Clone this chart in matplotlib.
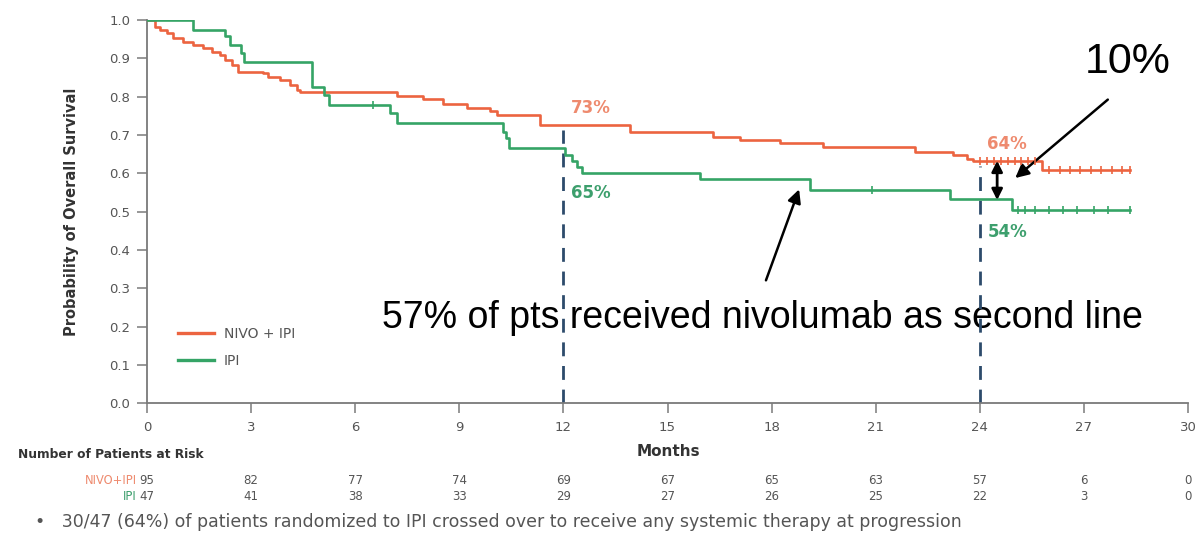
import matplotlib
matplotlib.use("Agg")
import matplotlib.pyplot as plt
from matplotlib.lines import Line2D

# Kaplan-Meier step data (months, survival after each step)
nivo_times = [0, 0.23, 0.37, 0.58, 0.75, 1.04, 1.33, 1.61, 1.87, 2.10, 2.25, 2.45, 2.62,
              3.34, 3.49, 3.83, 4.12, 4.32, 4.41, 7.20, 7.95, 8.53, 9.22, 9.88, 10.09,
              11.33, 13.92, 16.31, 17.09, 18.24, 19.48, 22.13, 23.23, 23.63, 23.80, 25.79, 28.33]
nivo_surv = [1.0, 0.982, 0.974, 0.966, 0.953, 0.943, 0.935, 0.927, 0.917, 0.909, 0.896, 0.883, 0.865,
             0.862, 0.852, 0.844, 0.831, 0.818, 0.812, 0.803, 0.795, 0.782, 0.771, 0.762, 0.751,
             0.726, 0.707, 0.694, 0.686, 0.678, 0.668, 0.655, 0.647, 0.638, 0.631, 0.608, 0.608]

ipi_times = [0, 1.33, 2.25, 2.40, 2.70, 2.80, 4.75, 5.10, 5.25, 7.00, 7.20, 10.26, 10.35,
             10.42, 12.05, 12.25, 12.40, 12.55, 15.95, 19.10, 23.14, 24.93, 28.33]
ipi_surv = [1.0, 0.974, 0.957, 0.936, 0.915, 0.891, 0.825, 0.805, 0.778, 0.757, 0.731, 0.708, 0.692,
            0.666, 0.648, 0.632, 0.617, 0.600, 0.584, 0.557, 0.533, 0.505, 0.505]

# Censoring times
nivo_censor = [24.0, 24.2, 24.4, 24.6, 24.8, 25.0, 25.2, 25.4, 25.6, 26.0, 26.3, 26.6,
               26.9, 27.2, 27.5, 27.8, 28.1, 28.33]
ipi_censor = [6.5, 20.9, 25.1, 25.3, 25.6, 26.0, 26.4, 26.8, 27.3, 27.7, 28.33]

risk_months = [0, 3, 6, 9, 12, 15, 18, 21, 24, 27, 30]
risk_nivo = [95, 82, 77, 74, 69, 67, 65, 63, 57, 6, 0]
risk_ipi = [47, 41, 38, 33, 29, 27, 26, 25, 22, 3, 0]

landmarks = [12, 24]
landmark_nivo = ["73%", "64%"]
landmark_ipi = ["65%", "54%"]

ORANGE = "#ec6440"
GREEN = "#35a466"
ORANGE_TXT = "#ee8a6e"
GREEN_TXT = "#3d9f6d"
NAVY = "#2d4b6b"
GRAY = "#555555"


def surv_at(times, surv, t):
    val = surv[0]
    for ti, si in zip(times, surv):
        if ti <= t:
            val = si
    return val


fig = plt.figure(figsize=(12.01, 5.40), dpi=100)
ax = fig.add_axes([147 / 1201, 1 - 403.3 / 540, 1041 / 1201, (403.3 - 20) / 540])

ax.step(nivo_times, nivo_surv, where="post", color=ORANGE, lw=1.9, zorder=3)
ax.step(ipi_times, ipi_surv, where="post", color=GREEN, lw=1.9, zorder=3)
ax.plot(nivo_censor, [surv_at(nivo_times, nivo_surv, t) for t in nivo_censor], ls="none",
        marker="|", ms=6, mew=1.2, color=ORANGE, zorder=4)
ax.plot(ipi_censor, [surv_at(ipi_times, ipi_surv, t) for t in ipi_censor], ls="none",
        marker="|", ms=6, mew=1.2, color=GREEN, zorder=4)

# Landmark lines and survival labels
for m, ln, li in zip(landmarks, landmark_nivo, landmark_ipi):
    top = surv_at(nivo_times, nivo_surv, m)
    ax.plot([m, m], [0, top - 0.012], color=NAVY, lw=2.0, ls=(0, (5, 3.5)), zorder=2)
    ax.text(m + 0.22, top + 0.045, ln, color=ORANGE_TXT, fontsize=12, fontweight="bold",
            va="center", ha="left", family="DejaVu Sans")
    ax.text(m + 0.22, surv_at(ipi_times, ipi_surv, m) - 0.085 if m == 24 else 0.549, li,
            color=GREEN_TXT, fontsize=12, fontweight="bold", va="center", ha="left",
            family="DejaVu Sans")

ax.set_xlim(0, 30)
ax.set_ylim(0, 1.0)
ax.set_xticks(range(0, 31, 3))
ax.set_yticks([i / 10 for i in range(11)])
ax.set_yticklabels([f"{i / 10:.1f}" for i in range(11)])
for s in ["top", "right"]:
    ax.spines[s].set_visible(False)
for s in ["left", "bottom"]:
    ax.spines[s].set_color("#7a7a7a")
    ax.spines[s].set_linewidth(1.3)
ax.tick_params(axis="both", length=7, width=1.1, color="#7a7a7a", labelcolor=GRAY,
               labelsize=9.5, pad=5)
ax.tick_params(axis="x", pad=6)
ax.set_ylabel("Probability of Overall Survival", fontsize=10.5, fontweight="bold",
              color="#333333", labelpad=22)

handles = [Line2D([], [], color=ORANGE, lw=2.4), Line2D([], [], color=GREEN, lw=2.4)]
ax.legend(handles, ["NIVO + IPI", "IPI"], loc="lower left", bbox_to_anchor=(0.018, 0.06),
          frameon=False, fontsize=10, handlelength=2.6, handletextpad=0.7, labelspacing=0.9,
          labelcolor=GRAY)

# Annotations
ax.annotate("", xy=(18.82, 0.565), xytext=(17.81, 0.314),
            arrowprops=dict(arrowstyle="-|>", color="black", lw=1.8, mutation_scale=20))
ax.annotate("", xy=(24.96, 0.583), xytext=(27.75, 0.797),
            arrowprops=dict(arrowstyle="-|>", color="black", lw=1.8, mutation_scale=20))
ax.annotate("", xy=(24.5, 0.523), xytext=(24.5, 0.64),
            arrowprops=dict(arrowstyle="<|-|>", color="black", lw=2.0, mutation_scale=16))
ax.text(28.27, 0.89, "10%", fontsize=31, family="Liberation Sans", ha="center", va="center")
ax.text(17.75, 0.222, "57% of pts received nivolumab as second line", fontsize=27,
        family="Liberation Sans", ha="center", va="center", zorder=1)

# Axis title and risk table
fig.text(668 / 1201, 1 - 452 / 540, "Months", fontsize=11, fontweight="bold", color="#333333",
         ha="center", va="center")
fig.text(18 / 1201, 1 - 455 / 540, "Number of Patients at Risk", fontsize=8.8, fontweight="bold",
         color="#333333", ha="left", va="center")
fig.text(137 / 1201, 1 - 480 / 540, "NIVO+IPI", fontsize=8.3, color=ORANGE_TXT, ha="right", va="center")
fig.text(137 / 1201, 1 - 497 / 540, "IPI", fontsize=8.3, color=GREEN_TXT, ha="right", va="center")
to_fig = ax.transData + fig.transFigure.inverted()
for m, a, b in zip(risk_months, risk_nivo, risk_ipi):
    xf = to_fig.transform((m, 0))[0]
    fig.text(xf, 1 - 480 / 540, str(a), fontsize=8.5, color=GRAY, ha="center", va="center")
    fig.text(xf, 1 - 497 / 540, str(b), fontsize=8.5, color=GRAY, ha="center", va="center")

fig.text(35 / 1201, 1 - 522 / 540,
         "•   30/47 (64%) of patients randomized to IPI crossed over to receive any systemic therapy at progression",
         fontsize=12.5, color=GRAY, ha="left", va="center")

fig.savefig("out.png", dpi=100)
